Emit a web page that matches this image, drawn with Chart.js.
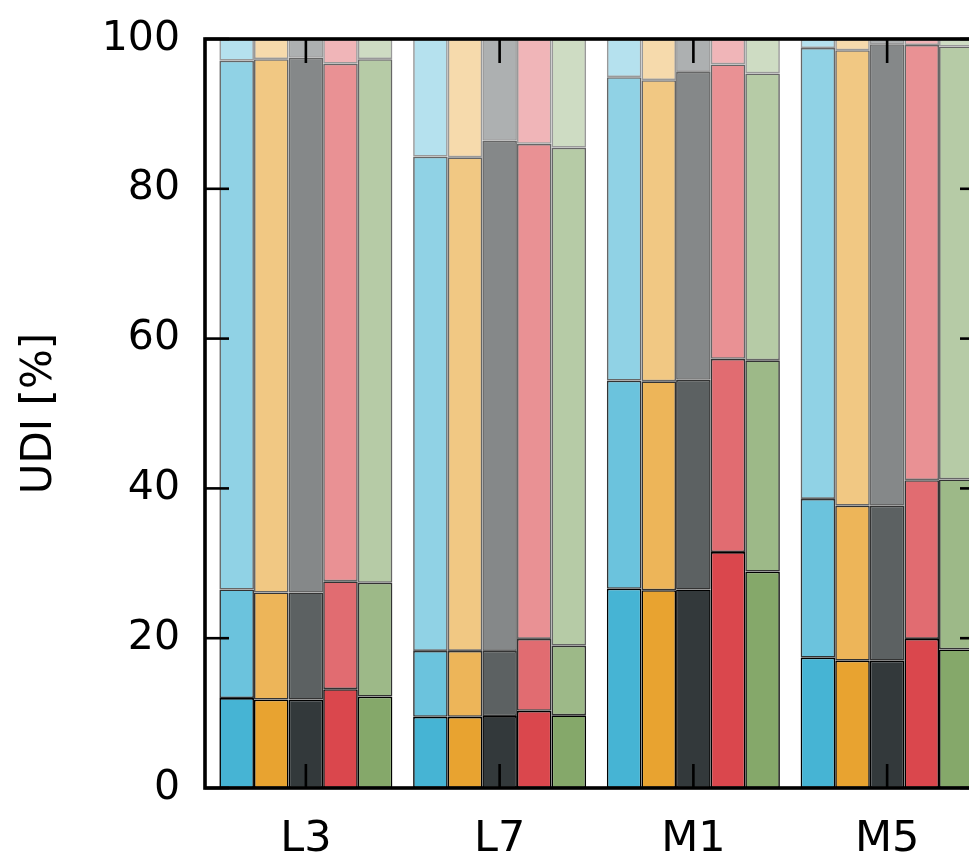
<!DOCTYPE html>
<html><head><meta charset="utf-8">
<script src="https://cdn.jsdelivr.net/npm/chart.js@4.4.1/dist/chart.umd.min.js"></script>
<style>
html,body{margin:0;padding:0;background:#fff;overflow:hidden;}
#wrap{width:969px;height:863px;overflow:hidden;position:relative;background:#fff;}
canvas{display:block;}
</style></head><body>
<div id="wrap"><canvas id="c" width="1000" height="863" style="width:1000px;height:863px"></canvas></div>
<script>
// ---- data ----
const categories = ['L3', 'L7', 'M1', 'M5'];
const yTicks = [0, 20, 40, 60, 80, 100];
const yTitle = 'UDI [%]';
// segment values (%) from bottom to top; each inner array = one segment level across categories
const blueSegments   = [[12.0, 9.5, 26.6, 17.4], [14.5, 8.8, 27.8, 21.2], [70.6, 66.0, 40.5, 60.2], [2.9, 15.7, 5.1, 1.2]];
const orangeSegments = [[11.8, 9.5, 26.4, 17.0], [14.3, 8.8, 27.9, 20.7], [71.2, 65.9, 40.2, 60.8], [2.7, 15.8, 5.5, 1.5]];
const darkSegments   = [[11.8, 9.6, 26.5, 17.0], [14.3, 8.7, 28.0, 20.7], [71.4, 68.1, 41.1, 61.6], [2.5, 13.6, 4.4, 0.7]];
const redSegments    = [[13.2, 10.3, 31.5, 19.9], [14.4, 9.6, 25.8, 21.2], [69.1, 66.1, 39.3, 58.1], [3.3, 14.0, 3.4, 0.8]];
const greenSegments  = [[12.2, 9.7, 28.9, 18.5], [15.2, 9.3, 28.2, 22.7], [69.9, 66.5, 38.3, 57.8], [2.7, 14.5, 4.6, 1.0]];

// ---- styles ----
const seriesList = [blueSegments, orangeSegments, darkSegments, redSegments, greenSegments];
const seriesRGB = [[70,180,212],[232,163,48],[51,57,59],[218,71,77],[133,168,106]];
const levelAlpha = [1, 0.8, 0.6, 0.4];
const FONT = 'DejaVu Sans';

const datasets = [];
seriesList.forEach((segs, s) => {
  segs.forEach((vals, l) => {
    const [r,g,b] = seriesRGB[s];
    const a = levelAlpha[l];
    datasets.push({
      label: 'S' + s + '-' + l,
      data: vals,
      stack: 'stack' + s,
      backgroundColor: `rgba(${r},${g},${b},${a})`,
      borderColor: `rgba(0,0,0,${a})`,
      borderWidth: 1.6,
      borderSkipped: false,
      categoryPercentage: 0.893,
      barPercentage: 1.0
    });
  });
});

const framePlugin = {
  id: 'frame',
  afterDatasetsDraw(chart) {
    const {ctx, chartArea: a, scales: {x, y}} = chart;
    const left = a.left - 4;
    const line = (x1, y1, x2, y2) => { ctx.beginPath(); ctx.moveTo(x1, y1); ctx.lineTo(x2, y2); ctx.stroke(); };
    ctx.save();
    ctx.strokeStyle = '#000';
    ctx.lineWidth = 2.6;
    y.ticks.forEach(t => {
      const py = y.getPixelForValue(t.value);
      line(left, py, left + 24, py);
      line(a.right, py, a.right - 24, py);
    });
    x.ticks.forEach((t, i) => {
      const px = x.getPixelForValue(i);
      line(px, a.bottom, px, a.bottom - 24);
      line(px, a.top, px, a.top + 24);
    });
    ctx.lineWidth = 3.6;
    ctx.strokeRect(left, a.top, a.right - left, a.bottom - a.top);
    ctx.restore();
  }
};

new Chart(document.getElementById('c'), {
  type: 'bar',
  data: { labels: categories, datasets },
  options: {
    responsive: false,
    animation: false,
    devicePixelRatio: 1,
    layout: { padding: { top: 39, right: 16, left: 0, bottom: 0 } },
    plugins: { legend: { display: false }, tooltip: { enabled: false } },
    scales: {
      x: {
        type: 'category',
        offset: true,
        grid: { display: false, drawTicks: false },
        border: { display: false },
        ticks: { color: '#000', font: { family: FONT, size: 43 }, padding: 26, maxRotation: 0 },
        afterFit: s => { s.height = 75; s.paddingTop = 0; s.paddingBottom = 0; }
      },
      y: {
        stacked: true,
        min: 0, max: 100,
        afterBuildTicks: s => { s.ticks = yTicks.map(v => ({ value: v })); },
        grid: { display: false, drawTicks: false },
        border: { display: false },
        ticks: { color: '#000', font: { family: FONT, size: 41 }, padding: 29 },
        title: { display: true, text: yTitle, color: '#000', font: { family: FONT, size: 42 }, padding: { top: 15, bottom: 0 } },
        afterFit: s => { s.width = 209; s.paddingTop = 0; s.paddingBottom = 0; }
      }
    }
  },
  plugins: [framePlugin]
});
</script>
</body></html>
